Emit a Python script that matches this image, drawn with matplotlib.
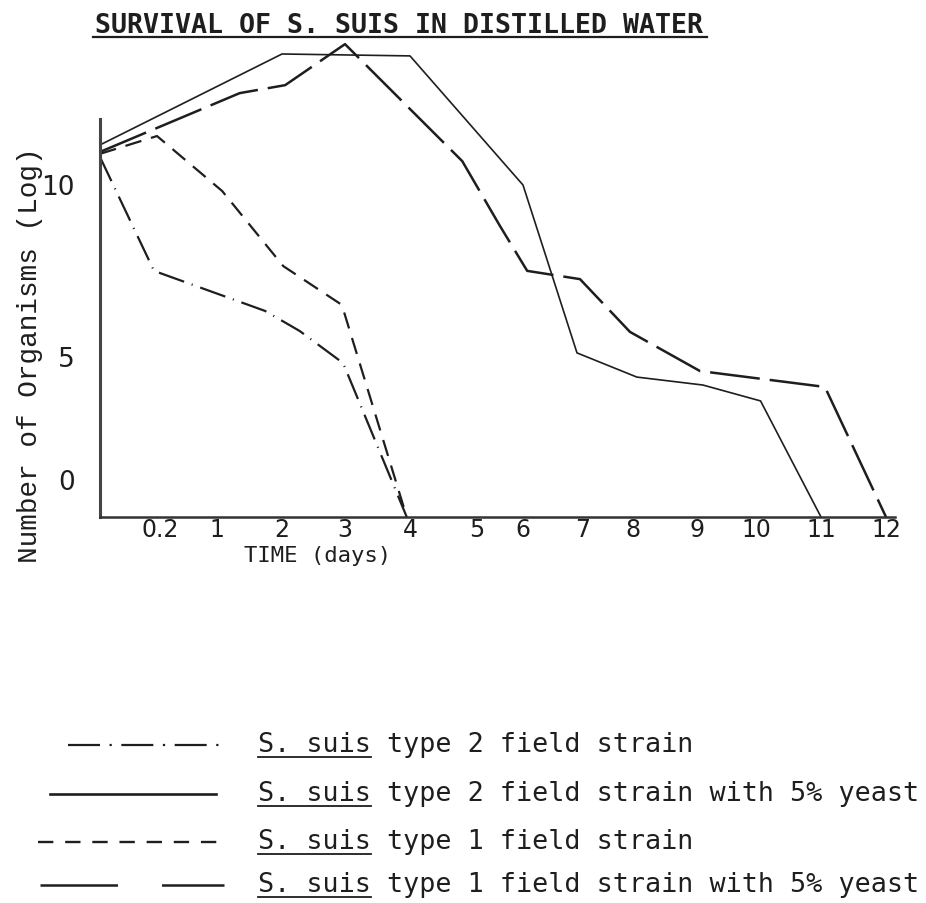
import numpy as np
import matplotlib
matplotlib.use("Agg")
import matplotlib.pyplot as plt
from matplotlib import font_manager
from matplotlib.transforms import ScaledTranslation

# log counts per culture against time in days
days_t2 = [0, 0.18, 1.74, 2.28, 2.97, 3.95]
log_t2 = [11.32, 7.74, 6.48, 5.85, 4.84, 0]

days_t2_yeast = [0, 2.0, 4.0, 6.0, 6.9, 8.06, 9.1, 10.07, 11.0]
log_t2_yeast = [11.7, 14.56, 14.5, 10.44, 5.16, 4.40, 4.15, 3.65, 0]

days_t1 = [0, 0.19, 1.08, 2.02, 2.95, 3.95]
log_t1 = [11.42, 11.98, 10.25, 7.89, 6.67, 0]

days_t1_yeast = [0, 1.35, 2.05, 3.0, 4.78, 5.5, 6.07, 6.95, 7.94, 9.05, 11.06, 12]
log_t1_yeast = [11.48, 13.33, 13.58, 14.87, 11.19, 9.15, 7.74, 7.48, 5.82, 4.59, 4.09, 0]

day_ticks = [0.2, 1, 2, 3, 4, 5, 6, 7, 8, 9, 10, 11, 12]
day_labels = ["0.2", "1", "2", "3", "4", "5", "6", "7", "8", "9", "10", "11", "12"]
log_ticks = [0, 5, 10]

legend_labels = [
    "S. suis type 2 field strain",
    "S. suis type 2 field strain with 5% yeast",
    "S. suis type 1 field strain",
    "S. suis type 1 field strain with 5% yeast",
]

# the typed day labels are unevenly spaced, so the x axis is piecewise linear
axis_days = [0, 0.2, 1, 2, 3, 4, 5, 6, 7, 8, 9, 10, 11, 12, 12.2]
axis_pos = [100, 160, 217, 282, 345, 410, 477, 523, 583, 633, 697, 756, 821, 886, 898]


def fwd(d):
    return np.interp(d, axis_days, axis_pos)


def inv(p):
    return np.interp(p, axis_pos, axis_days)


ink = "#1e1e1e"
mono = "DejaVu Sans Mono"
courier = "Liberation Mono"
installed = {f.name for f in font_manager.fontManager.ttflist}
narrow = "Liberation Sans Narrow" if "Liberation Sans Narrow" in installed else "DejaVu Sans"
tick_size = 21 if narrow == "Liberation Sans Narrow" else 17

fig = plt.figure(figsize=(9.26, 9.04), dpi=100)
ax = fig.add_axes([100 / 926, 1 - 518 / 904, 795 / 926, 398 / 904])
ax.set_xscale("function", functions=(fwd, inv))
ax.set_xlim(0, 12.15)
ax.set_ylim(0, 398 / 31.8)

ax.plot(days_t2, log_t2, color=ink, lw=1.6, ls=(0, (12, 3.6, 0.5, 3.6)), clip_on=False)
ax.plot(days_t2_yeast, log_t2_yeast, color=ink, lw=1.2, clip_on=False)
ax.plot(days_t1, log_t1, color=ink, lw=1.6, ls=(0, (7.5, 4.5)), clip_on=False)
ax.plot(days_t1_yeast, log_t1_yeast, color=ink, lw=1.8, ls=(0, (20, 4)), clip_on=False)

for s in ["top", "right"]:
    ax.spines[s].set_visible(False)
ax.spines["left"].set_linewidth(2.2)
ax.spines["left"].set_color("#444444")
ax.spines["bottom"].set_linewidth(1.8)
ax.spines["bottom"].set_color("#333333")

ax.set_xticks(day_ticks, day_labels)
ax.set_yticks(log_ticks, [str(v) for v in log_ticks])
ax.tick_params(axis="x", length=0, pad=0, labelsize=tick_size, labelcolor=ink)
ax.tick_params(axis="y", length=0, pad=18, labelsize=tick_size + 2, labelcolor=ink)
for lbl in ax.get_xticklabels() + ax.get_yticklabels():
    lbl.set_fontfamily(narrow)
# the typed y labels sit above their grid levels by uneven amounts (inches)
for lbl, up in zip(ax.get_yticklabels(), [0.38, 0.02, 0.15]):
    lbl.set_transform(lbl.get_transform() + ScaledTranslation(0, up, fig.dpi_scale_trans))

# page overlay in pixel units for title, axis captions and the key
lay = fig.add_axes([0, 0, 1, 1])
lay.set_xlim(0, 926)
lay.set_ylim(904, 0)
lay.axis("off")
lay.patch.set_visible(False)

title = lay.text(95, 33, "SURVIVAL OF S. SUIS IN DISTILLED WATER", fontsize=19.2,
                 fontweight="bold", family=mono, color=ink, ha="left", va="baseline")
lay.text(318, 556, "TIME (days)", fontsize=16, family=mono, color=ink,
         ha="center", va="center")
lay.text(30, 355, "Number of Organisms (Log)", fontsize=20, family=courier,
         color=ink, rotation=90, ha="center", va="center")

# key: hand-drawn samples with their own dash lengths
rows_y = [743, 792, 840, 883]
samples = [
    dict(x=(68, 221), lw=1.6, ls=(0, (14.4, 4.3, 1, 4.3))),
    dict(x=(50, 216), lw=1.9, ls="-"),
    dict(x=(38, 221), lw=1.7, ls=(0, (6.5, 5))),
    dict(x=(40, 224), lw=1.8, ls=(0, (31, 17.6))),
]
label_x = 258
for y, smp, text in zip(rows_y, samples, legend_labels):
    lay.plot(smp["x"], [y + 3, y + 3], color=ink, lw=smp["lw"], ls=smp["ls"])
    lay.text(label_x, y + 9, text, fontsize=19.3, family=mono,
             color=ink, ha="left", va="baseline")

fig.canvas.draw()
r = fig.canvas.get_renderer()
to_data = lay.transData.inverted()

# underline the title
bb = title.get_window_extent(r)
(x0, _), (x1, _) = to_data.transform([[bb.x0, bb.y0], [bb.x1, bb.y0]])
lay.plot([x0 - 2, x1 + 4], [38, 38], color=ink, lw=1.6)

# underline the species name in each key entry
probe = lay.text(label_x, 0, "S. suis", fontsize=19.3, family=mono)
pb = probe.get_window_extent(r)
probe.remove()
w = pb.width * 926 / fig.bbox.width
for y in rows_y:
    lay.plot([label_x, label_x + w], [y + 15, y + 15], color=ink, lw=1.3)

fig.savefig("out.png", dpi=100, facecolor="white")
